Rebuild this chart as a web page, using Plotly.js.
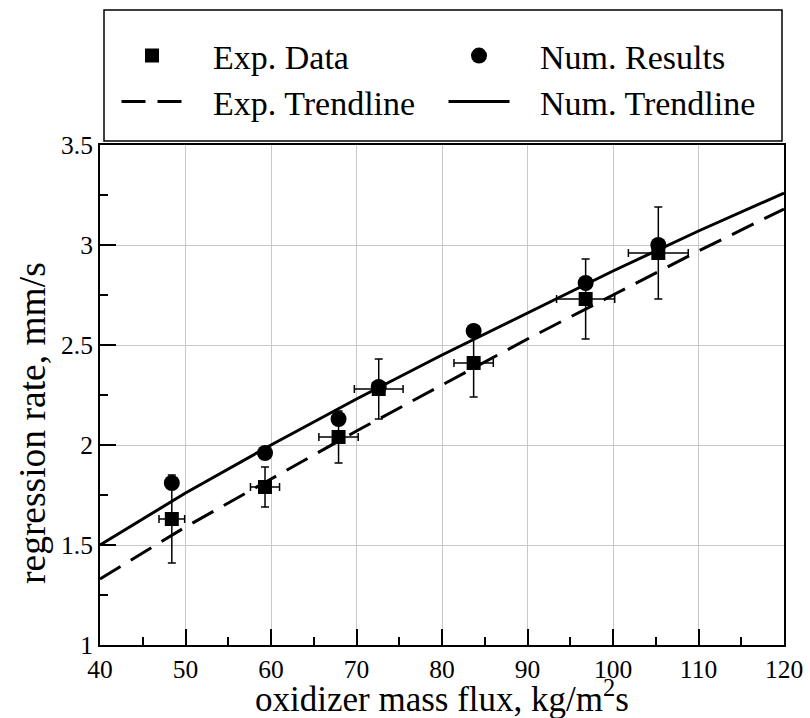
<!DOCTYPE html>
<html>
<head>
<meta charset="utf-8">
<script src="https://cdn.plot.ly/plotly-3.0.1.min.js"></script>
<style>html,body{margin:0;padding:0;background:#fff;}#chart{width:810px;height:718px;}</style>
</head>
<body>
<div id="chart"></div>
<script>
// Experimental data (squares with error bars)
const expX    = [48.4, 59.3, 67.9, 72.6, 83.7, 96.8, 105.3];
const expY    = [1.63, 1.79, 2.04, 2.28, 2.41, 2.73, 2.96];
const expErrY = [0.22, 0.10, 0.13, 0.15, 0.17, 0.20, 0.23];
const expErrX = [1.5, 1.7, 2.3, 2.85, 2.3, 3.4, 3.5];
// Numerical results (circles)
const numX    = [48.4, 59.3, 67.9, 72.6, 83.7, 96.8, 105.3];
const numY    = [1.81, 1.96, 2.13, 2.29, 2.57, 2.81, 3.00];
// Trendlines
const trendX     = [40, 50, 60, 70, 80, 90, 100, 110, 120];
const numTrendY  = [1.50, 1.76, 2.00, 2.23, 2.45, 2.66, 2.87, 3.07, 3.26];
const expTrendY  = [1.33, 1.59, 1.83, 2.07, 2.30, 2.53, 2.75, 2.97, 3.18];
// Labels
const names = ['Exp. Data', 'Num. Results', 'Exp. Trendline', 'Num. Trendline'];
const xTitle = 'oxidizer mass flux, kg/m<sup>2</sup>s';
const yTitle = 'regression rate, mm/s';

const FONT = '"Liberation Serif", "Times New Roman", Times, serif';
const pad = '\u00a0\u00a0\u00a0';

const traces = [
  {x: expX, y: expY, mode: 'markers', type: 'scatter', name: pad + names[0], legend: 'legend',
   marker: {symbol: 'square', size: 14, color: '#000'},
   error_y: {type: 'data', array: expErrY, visible: true, color: '#000', thickness: 1.5, width: 4},
   error_x: {type: 'data', array: expErrX, visible: true, color: '#000', thickness: 1.5, width: 4}},
  {x: numX, y: numY, mode: 'markers', type: 'scatter', name: pad + names[1], legend: 'legend',
   marker: {symbol: 'circle', size: 16, color: '#000'}},
  {x: trendX, y: expTrendY, mode: 'lines', type: 'scatter', name: pad + names[2], legend: 'legend2',
   line: {color: '#000', width: 3, dash: '24px,12px'}},
  {x: trendX, y: numTrendY, mode: 'lines', type: 'scatter', name: pad + names[3], legend: 'legend2',
   line: {color: '#000', width: 3}}
];

const L = 100, R = 26, T = 145, B = 73;
const W = 810 - L - R, H = 718 - T - B;
const px2x = p => (p - L) / W;
const py2y = p => (718 - B - p) / H;

const legendCommon = {
  orientation: 'h', xanchor: 'left', yanchor: 'middle',
  bgcolor: 'rgba(0,0,0,0)', borderwidth: 0,
  font: {family: FONT, size: 34, color: '#000'},
  itemwidth: 61, entrywidth: 251, itemclick: false, itemdoubleclick: false
};

const axisCommon = {
  showline: true, linecolor: '#000', linewidth: 2, mirror: true,
  ticks: 'inside', ticklen: 16, tickwidth: 2, tickcolor: '#000',
  showgrid: true, gridcolor: '#c8c8c8', gridwidth: 1, zeroline: false,
  tickfont: {family: FONT, size: 25.5, color: '#000'}
};

const layout = {
  width: 810, height: 718,
  margin: {l: L, r: R, t: T, b: B, pad: 0},
  paper_bgcolor: '#fff', plot_bgcolor: '#fff',
  font: {family: FONT, color: '#000'},
  showlegend: true,
  legend: Object.assign({}, legendCommon, {x: px2x(116.5), y: py2y(56)}),
  legend2: Object.assign({}, legendCommon, {x: px2x(116.5), y: py2y(102)}),
  xaxis: Object.assign({}, axisCommon, {
    range: [40, 120], dtick: 10, tick0: 40,
    minor: {dtick: 5, ticks: 'inside', ticklen: 8, tickwidth: 2, tickcolor: '#000', showgrid: false}
  }),
  yaxis: Object.assign({}, axisCommon, {
    range: [1, 3.5], dtick: 0.5, tick0: 1,
    minor: {dtick: 0.25, ticks: 'inside', ticklen: 8, tickwidth: 2, tickcolor: '#000', showgrid: false}
  }),
  annotations: [
    {xref: 'paper', yref: 'paper', x: px2x(32), y: py2y(423), xanchor: 'center', yanchor: 'middle',
     text: yTitle, textangle: -90, showarrow: false,
     font: {family: FONT, size: 37.5, color: '#000'}},
    {xref: 'paper', yref: 'paper', x: px2x(442), y: py2y(720), xanchor: 'center', yanchor: 'bottom',
     text: xTitle, showarrow: false, borderpad: 0,
     font: {family: FONT, size: 35, color: '#000'}}
  ],
  shapes: [
    {type: 'rect', xref: 'paper', yref: 'paper',
     x0: px2x(104), x1: px2x(782), y0: py2y(141), y1: py2y(10),
     line: {color: '#000', width: 1.5}, fillcolor: 'rgba(0,0,0,0)', layer: 'above'}
  ]
};

Plotly.newPlot('chart', traces, layout, {displayModeBar: false, staticPlot: true});
</script>
</body>
</html>
